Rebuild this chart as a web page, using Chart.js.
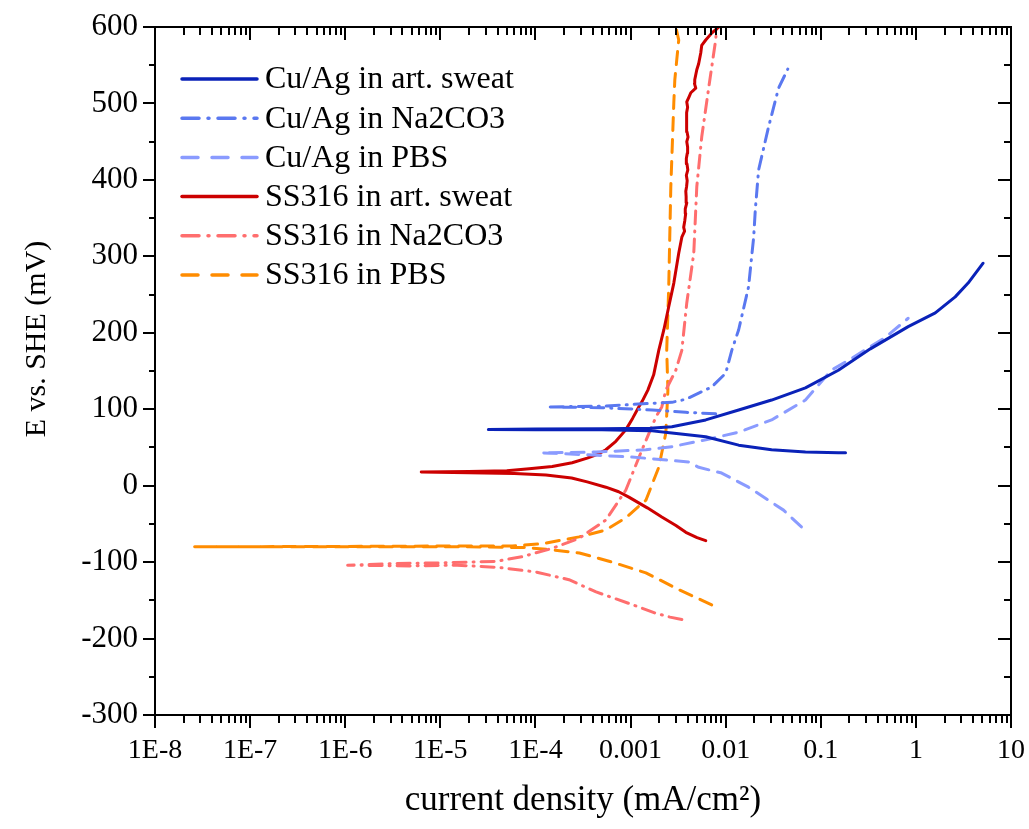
<!DOCTYPE html>
<html><head><meta charset="utf-8">
<script src="https://cdn.jsdelivr.net/npm/chart.js@4.4.1/dist/chart.umd.min.js"></script>
<style>html,body{margin:0;padding:0;background:#fff;}#wrap{width:1029px;height:829px;}</style>
</head><body><div id="wrap"><canvas id="c" width="1029" height="829"></canvas></div>
<script>
// ---- data ----
const seriesNames = ['Cu/Ag in art. sweat','Cu/Ag in Na2CO3','Cu/Ag in PBS','SS316 in art. sweat','SS316 in Na2CO3','SS316 in PBS'];

const xTickValues = [1e-8,1e-7,1e-6,1e-5,1e-4,1e-3,1e-2,1e-1,1,10];
const xTickLabels = ['1E-8','1E-7','1E-6','1E-5','1E-4','0.001','0.01','0.1','1','10'];
const yTickValues = [-300,-200,-100,0,100,200,300,400,500,600];

const cuSweatI = [0.182,0.153,0.069,0.0304,0.0137,0.00617,0.00272,0.0016,0.0005,0.0001,0.000032,0.0001,0.0005,0.0016,0.00272,0.00617,0.0137,0.0304,0.069,0.153,0.332,0.83,1.6,2.59,3.54,5.09];
const cuSweatE = [43,43,44,47,53,64,69,72,73,73,73.5,74,74.5,75,77,86,99,112,128,151,179,208,226,247,265,291];

const cuNaI = [0.00785,0.0038,0.0017,0.0005,0.000139,0.0005,0.00185,0.00272,0.0038,0.0052,0.0071,0.0100,0.0116,0.0137,0.0174,0.0197,0.0205,0.0222,0.0282,0.036,0.045];
const cuNaE = [94,96,99,102,103,104,108,109,113,121,129,147,177,204,260,325,361,413,469,520,545];

const cuPbsI = [0.0626,0.0406,0.0174,0.00908,0.00521,0.00409,0.00103,0.0004,0.000117,0.000434,0.00145,0.00272,0.00617,0.0137,0.0304,0.069,0.129,0.195,0.478,0.83];
const cuPbsE = [-54,-32,-2,16.5,24,31,37.5,40,43,44,47,51,60,70,86,112,151,164,194,219];

const ssSweatI = [0.00617,0.0050,0.00381,0.0030,0.00213,0.0015,0.00096,0.00075,0.00055,0.00035,0.00024,0.000129,0.00006,0.00002,0.0000063,
  0.00002,0.00005,0.000086,0.00015,0.000243,0.00035,0.00045,0.00055,0.0007,0.00089,0.00105,0.00122,0.00132,0.00152,0.00175,0.00198,0.00224,0.00252,0.00285,0.00321,0.00346,
  0.0037,0.00362,0.00372,0.0038,0.00376,0.0039,0.00384,0.00381,0.00388,0.00394,0.00386,0.0040,0.00392,0.00386,0.00395,0.00398,0.0039,0.00402,0.00392,0.00384,0.00392,0.0039,0.00398,0.0039,0.0041,0.0043,0.00485,0.0047,0.00473,0.00497,0.0052,0.00547,0.0056,0.00617,0.00713,0.00845];
const ssSweatE = [-72,-68,-61,-52,-41,-29,-15,-8,-2,5,10,14,16,17,18,
  18.5,19.5,22,25,30,36,41,47,58,73,88,103,110,125,145,177,204,234,265,304,325,
  333,338,347,356,362,370,378,385,391,399,406,413,421,428,435,443,450,456,463,471,478,488,495,502,508,514,520,526,531,544,552,566,576,583,592,600];

const ssNaI = [0.00346,0.0026,0.00185,0.00096,0.000434,0.000225,0.000102,0.0000416,0.000015,0.000005,0.00000106,
  0.000003,0.00001,0.00002,0.0000387,0.000072,0.00015,0.000287,0.00055,0.00089,0.00132,0.00185,0.00213,0.00235,0.00299,0.00346,0.0039,0.00462,0.00497,0.0056,0.00664,0.00785,0.00805];
const ssNaE = [-175,-172,-167,-154,-139,-123,-113,-107,-104,-105,-104,
  -102,-101,-100,-99,-93,-82,-69,-45,-6,47,90,103,125,151,177,239,304,391,456,521,583,600];

const ssPbsI = [0.00713,0.005,0.00321,0.00145,0.00064,0.00029,0.00015,0.00008,0.00002,0.000001,0.000000026,
  0.000001,0.00001,0.000057,0.000117,0.000287,0.00055,0.00089,0.00145,0.00198,0.00235,0.00247,0.0024,0.00252,0.00265,0.00285,0.00292,0.00306,0.00321,0.00299];
const ssPbsE = [-156,-147,-136,-114,-100,-88,-84,-81,-80,-80,-80,
  -79.5,-79,-79,-76,-67,-58,-42,-19,24,69,125,177,260,391,501,531,557,583,600];

// ---- styles ----
const colors = ['#0a22b8','#5a78f0','#8a9bff','#cc0000','#ff6e6e','#ff8c00'];
const DASHDOT = [13,7,1,7], DASH = [13,9], SOLID = [];
const dashes = [SOLID, DASHDOT, DASH, SOLID, DASHDOT, DASH];
const seriesI = [cuSweatI, cuNaI, cuPbsI, ssSweatI, ssNaI, ssPbsI];
const seriesE = [cuSweatE, cuNaE, cuPbsE, ssSweatE, ssNaE, ssPbsE];

const FONT = "'Liberation Serif','Times New Roman',serif";

const datasets = seriesNames.map((name, k) => ({
  label: name,
  data: seriesI[k].map((v, i) => ({x: v, y: seriesE[k][i]})),
  borderColor: colors[k],
  backgroundColor: colors[k],
  borderWidth: 3,
  borderDash: dashes[k],
  borderCapStyle: 'round',
  borderJoinStyle: 'round',
  pointRadius: 0,
  tension: 0,
  fill: false
}));

function noPad(s) { s.paddingTop = 0; s.paddingBottom = 0; s.paddingLeft = 0; s.paddingRight = 0; }

const framePlugin = {
  id: 'frame',
  afterDatasetsDraw(chart) {
    const {ctx, chartArea: a, scales: {x, y}} = chart;
    ctx.save();
    ctx.setLineDash([]);
    ctx.strokeStyle = '#000';
    ctx.lineWidth = 2;
    ctx.strokeRect(a.left, a.top, a.right - a.left, a.bottom - a.top);
    ctx.beginPath();
    for (let d = -8; d <= 1; d++) {
      for (let m = 1; m <= 9; m++) {
        const v = m * Math.pow(10, d);
        if (v > 10.0001) break;
        const px = Math.round(x.getPixelForValue(v));
        const len = m === 1 ? 13 : 8;
        ctx.moveTo(px, a.bottom); ctx.lineTo(px, a.bottom + len);
        ctx.moveTo(px, a.top); ctx.lineTo(px, a.top + len);
      }
    }
    for (let v = -300; v <= 600; v += 50) {
      const py = Math.round(y.getPixelForValue(v));
      const major = v % 100 === 0;
      ctx.moveTo(a.left, py); ctx.lineTo(a.left - (major ? 12 : 6), py);
      ctx.moveTo(a.right, py); ctx.lineTo(a.right - (major ? 13 : 7), py);
    }
    ctx.stroke();

    // legend
    const lx0 = 182, lx1 = 257, tx = 265, y0 = 79, dy = 39.2;
    ctx.font = "32px " + FONT;
    ctx.textBaseline = 'middle';
    ctx.textAlign = 'left';
    chart.data.datasets.forEach((ds, k) => {
      const yy = y0 + k * dy;
      ctx.beginPath();
      ctx.lineWidth = 3.5;
      ctx.strokeStyle = ds.borderColor;
      ctx.lineCap = 'round';
      ctx.setLineDash(ds.borderDash.length === 2 ? [16, 14] : ds.borderDash.length === 4 ? [17, 9, 1, 9] : []);
      ctx.moveTo(lx0, yy); ctx.lineTo(lx1, yy);
      ctx.stroke();
      ctx.setLineDash([]);
      ctx.fillStyle = '#000';
      ctx.fillText(ds.label, tx, yy + 1);
    });

    // y title
    ctx.save();
    ctx.translate(37, 339);
    ctx.rotate(-Math.PI / 2);
    ctx.font = "30px " + FONT;
    ctx.textAlign = 'center';
    ctx.textBaseline = 'middle';
    ctx.fillStyle = '#000';
    ctx.fillText('E vs. SHE (mV)', 0, 0);
    ctx.restore();
    ctx.restore();
  }
};

new Chart(document.getElementById('c'), {
  type: 'line',
  data: { datasets },
  options: {
    responsive: false,
    animation: false,
    devicePixelRatio: 1,
    layout: { padding: { left: 0, right: 18, top: 27, bottom: 0 } },
    plugins: { legend: { display: false }, tooltip: { enabled: false } },
    scales: {
      x: {
        type: 'logarithmic',
        min: 1e-8, max: 10,
        afterBuildTicks: s => { s.ticks = xTickValues.map(v => ({value: v})); },
        afterFit: s => { s.height = 114; noPad(s); },
        grid: { display: false, drawTicks: false },
        border: { display: false },
        ticks: {
          autoSkip: false, maxRotation: 0, minRotation: 0, padding: 19,
          color: '#000', font: { family: FONT, size: 28, lineHeight: 1.2 },
          callback: (v, i) => xTickLabels[i]
        },
        title: {
          display: true, text: 'current density (mA/cm²)', color: '#000',
          font: { family: FONT, size: 35, lineHeight: 1.2 },
          padding: { top: 0, bottom: 7 }
        }
      },
      y: {
        type: 'linear',
        min: -300, max: 600,
        afterBuildTicks: s => { s.ticks = yTickValues.map(v => ({value: v})); },
        afterFit: s => { s.width = 155; noPad(s); },
        grid: { display: false, drawTicks: false },
        border: { display: false },
        ticks: {
          padding: 17, color: '#000',
          font: { family: FONT, size: 31, lineHeight: 1.2 },
          callback: v => String(v)
        }
      }
    }
  },
  plugins: [framePlugin]
});
</script>
</body></html>
